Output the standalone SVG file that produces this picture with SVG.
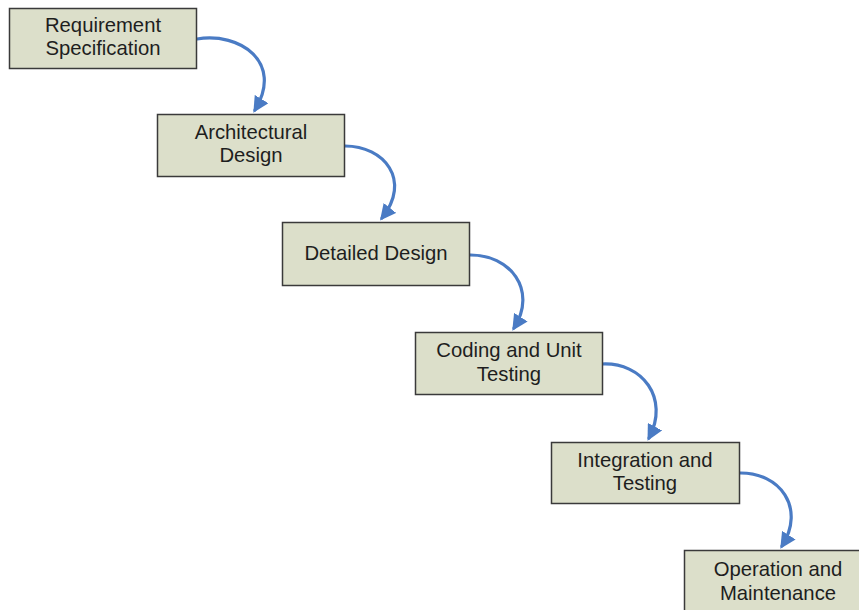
<svg xmlns="http://www.w3.org/2000/svg" width="859" height="610" viewBox="0 0 859 610">
  <style>
    .box { fill: #dcdfca; stroke: #3a3a3a; stroke-width: 1.5; }
    .lbl { font-family: "Liberation Sans", Arial, sans-serif; font-size: 20.3px; fill: #1e1e1e; text-anchor: middle; }
    .flow { fill: none; stroke: #4a7bc4; stroke-width: 3.2; stroke-linecap: round; }
  </style>
  <defs>
    <marker id="head" viewBox="0 0 10 10" refX="8" refY="5" markerWidth="5" markerHeight="5" orient="auto" markerUnits="strokeWidth">
      <path d="M0,0 L10,5 L0,10 z" fill="#4a7bc4"/>
    </marker>
  </defs>
  <rect width="859" height="610" fill="#ffffff"/>

  <g id="connectors">
    <path class="flow" marker-end="url(#head)" d="M197,39 C240,32 284,62 255,110"/>
    <path class="flow" marker-end="url(#head)" d="M345,146 C384,146 412,180 382,218"/>
    <path class="flow" marker-end="url(#head)" d="M469,255 C510,254 538,290 514,328"/>
    <path class="flow" marker-end="url(#head)" d="M602,364 C642,362 670,398 649,438"/>
    <path class="flow" marker-end="url(#head)" d="M739,473 C780,472 806,508 782,546"/>
  </g>

  <g id="requirement-specification">
    <rect class="box" x="9.5" y="8.5" width="187" height="60"/>
    <text class="lbl" x="103" y="32">Requirement</text>
    <text class="lbl" x="103" y="55">Specification</text>
  </g>
  <g id="architectural-design">
    <rect class="box" x="157.5" y="114.5" width="187" height="62"/>
    <text class="lbl" x="251" y="139">Architectural</text>
    <text class="lbl" x="251" y="162">Design</text>
  </g>
  <g id="detailed-design">
    <rect class="box" x="282.5" y="222.5" width="187" height="63"/>
    <text class="lbl" x="376" y="260">Detailed Design</text>
  </g>
  <g id="coding-unit-testing">
    <rect class="box" x="415.5" y="332.5" width="187" height="62"/>
    <text class="lbl" x="509" y="357">Coding and Unit</text>
    <text class="lbl" x="509" y="381">Testing</text>
  </g>
  <g id="integration-testing">
    <rect class="box" x="551.5" y="442.5" width="188" height="61"/>
    <text class="lbl" x="645" y="467">Integration and</text>
    <text class="lbl" x="645" y="490">Testing</text>
  </g>
  <g id="operation-maintenance">
    <rect class="box" x="684.5" y="550.5" width="188" height="64"/>
    <text class="lbl" x="778" y="576">Operation and</text>
    <text class="lbl" x="778" y="600">Maintenance</text>
  </g>
</svg>
